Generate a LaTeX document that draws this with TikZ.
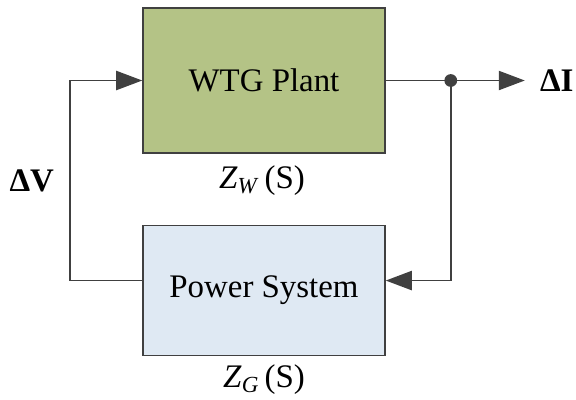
\documentclass[tikz,border=0pt]{standalone}
\usepackage{fontspec}
\setmainfont{Liberation Serif}
\usepackage{xcolor}
\usepackage{tikz}
\usetikzlibrary{positioning,arrows.meta,calc}
\definecolor{wtggreen}{RGB}{180,195,134}
\definecolor{gridblue}{RGB}{223,233,243}
\definecolor{linegray}{RGB}{64,64,64}

\begin{document}
\begin{tikzpicture}[
        font=\fontsize{23.4}{28}\selectfont,
        component/.style={
            rectangle,
            draw=linegray,
            line width=1.1pt,
            minimum width=6.05cm,
            align=center
        },
        flow/.style={line width=1.1pt,draw=linegray,-{Triangle[length=0.65cm,width=0.48cm]}},
        wire/.style={line width=1.1pt,draw=linegray},
        tag/.style={inner sep=0pt}
    ]

    \useasboundingbox (0,0) rectangle (14.4,-9.975);

    \node[component, fill=wtggreen, minimum height=3.625cm] (wtg)
        at (6.6,-2.0125) {WTG Plant};

    \node[component, fill=gridblue, minimum height=3.25cm,
        below=1.775cm of wtg] (grid)
        {\raisebox{-0.25cm}{Power System}};

    \node[tag, below=0.28cm of wtg, xshift=-0.05cm] (zw)
        {\textit{Z}\textsubscript{\textit{W}}\,(S)};
    \node[tag, below=0.2cm of grid] (zg)
        {\textit{Z}\textsubscript{\textit{G}}\,(S)};

    % branch point and loop corners
    \coordinate[right=1.625cm of wtg.east] (split);
    \coordinate[left=1.8cm of wtg.west] (vleft);
    \coordinate (gin) at ($(grid.east)+(0,0.25)$);
    \coordinate (gout) at ($(grid.west)+(0,0.25)$);

    \node[inner sep=0.375cm, anchor=west, right=1.85cm of split] (dI)
        {\textbf{ΔI}};

    \draw[wire] (wtg.east) -- (split);
    \draw[flow] (split) -- (dI);
    \draw[flow] (split) |- (gin);
    \draw[flow] (gout) -| (vleft) -- (wtg.west);
    \fill[linegray] (split) circle (0.16cm);

    \path (vleft) -- (vleft |- gout)
        node[tag, midway, left=0.4cm] (dV) {\textbf{ΔV}};

\end{tikzpicture}
\end{document}
